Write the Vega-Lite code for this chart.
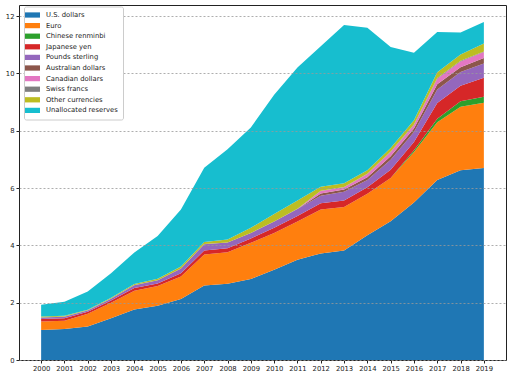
{
  "$schema": "https://vega.github.io/schema/vega-lite/v6.json",
  "width": 487,
  "height": 355,
  "padding": {"left": 19, "top": 5, "right": 6, "bottom": 18},
  "autosize": {"type": "none"},
  "background": "white",
  "config": {
    "view": {"stroke": "#222", "strokeWidth": 1},
    "font": "DejaVu Sans"
  },
  "datasets": {
    "currencies": [
      {"currency": "U.S. dollars", "rank": 1},
      {"currency": "Euro", "rank": 2},
      {"currency": "Chinese renminbi", "rank": 3},
      {"currency": "Japanese yen", "rank": 4},
      {"currency": "Pounds sterling", "rank": 5},
      {"currency": "Australian dollars", "rank": 6},
      {"currency": "Canadian dollars", "rank": 7},
      {"currency": "Swiss francs", "rank": 8},
      {"currency": "Other currencies", "rank": 9},
      {"currency": "Unallocated reserves", "rank": 10}
    ],
    "reserves": [
      {"year": 2000, "currency": "U.S. dollars", "value": 1.05},
      {"year": 2000, "currency": "Euro", "value": 0.29},
      {"year": 2000, "currency": "Chinese renminbi", "value": 0},
      {"year": 2000, "currency": "Japanese yen", "value": 0.09},
      {"year": 2000, "currency": "Pounds sterling", "value": 0.05},
      {"year": 2000, "currency": "Australian dollars", "value": 0},
      {"year": 2000, "currency": "Canadian dollars", "value": 0},
      {"year": 2000, "currency": "Swiss francs", "value": 0.004},
      {"year": 2000, "currency": "Other currencies", "value": 0.03},
      {"year": 2000, "currency": "Unallocated reserves", "value": 0.41},
      {"year": 2001, "currency": "U.S. dollars", "value": 1.08},
      {"year": 2001, "currency": "Euro", "value": 0.29},
      {"year": 2001, "currency": "Chinese renminbi", "value": 0},
      {"year": 2001, "currency": "Japanese yen", "value": 0.09},
      {"year": 2001, "currency": "Pounds sterling", "value": 0.05},
      {"year": 2001, "currency": "Australian dollars", "value": 0},
      {"year": 2001, "currency": "Canadian dollars", "value": 0},
      {"year": 2001, "currency": "Swiss francs", "value": 0.004},
      {"year": 2001, "currency": "Other currencies", "value": 0.03},
      {"year": 2001, "currency": "Unallocated reserves", "value": 0.49},
      {"year": 2002, "currency": "U.S. dollars", "value": 1.17},
      {"year": 2002, "currency": "Euro", "value": 0.44},
      {"year": 2002, "currency": "Chinese renminbi", "value": 0},
      {"year": 2002, "currency": "Japanese yen", "value": 0.07},
      {"year": 2002, "currency": "Pounds sterling", "value": 0.05},
      {"year": 2002, "currency": "Australian dollars", "value": 0},
      {"year": 2002, "currency": "Canadian dollars", "value": 0},
      {"year": 2002, "currency": "Swiss francs", "value": 0.004},
      {"year": 2002, "currency": "Other currencies", "value": 0.02},
      {"year": 2002, "currency": "Unallocated reserves", "value": 0.64},
      {"year": 2003, "currency": "U.S. dollars", "value": 1.46},
      {"year": 2003, "currency": "Euro", "value": 0.54},
      {"year": 2003, "currency": "Chinese renminbi", "value": 0},
      {"year": 2003, "currency": "Japanese yen", "value": 0.08},
      {"year": 2003, "currency": "Pounds sterling", "value": 0.06},
      {"year": 2003, "currency": "Australian dollars", "value": 0},
      {"year": 2003, "currency": "Canadian dollars", "value": 0},
      {"year": 2003, "currency": "Swiss francs", "value": 0.004},
      {"year": 2003, "currency": "Other currencies", "value": 0.03},
      {"year": 2003, "currency": "Unallocated reserves", "value": 0.85},
      {"year": 2004, "currency": "U.S. dollars", "value": 1.76},
      {"year": 2004, "currency": "Euro", "value": 0.66},
      {"year": 2004, "currency": "Chinese renminbi", "value": 0},
      {"year": 2004, "currency": "Japanese yen", "value": 0.09},
      {"year": 2004, "currency": "Pounds sterling", "value": 0.10},
      {"year": 2004, "currency": "Australian dollars", "value": 0},
      {"year": 2004, "currency": "Canadian dollars", "value": 0},
      {"year": 2004, "currency": "Swiss francs", "value": 0.004},
      {"year": 2004, "currency": "Other currencies", "value": 0.04},
      {"year": 2004, "currency": "Unallocated reserves", "value": 1.10},
      {"year": 2005, "currency": "U.S. dollars", "value": 1.89},
      {"year": 2005, "currency": "Euro", "value": 0.69},
      {"year": 2005, "currency": "Chinese renminbi", "value": 0},
      {"year": 2005, "currency": "Japanese yen", "value": 0.09},
      {"year": 2005, "currency": "Pounds sterling", "value": 0.11},
      {"year": 2005, "currency": "Australian dollars", "value": 0},
      {"year": 2005, "currency": "Canadian dollars", "value": 0},
      {"year": 2005, "currency": "Swiss francs", "value": 0.004},
      {"year": 2005, "currency": "Other currencies", "value": 0.05},
      {"year": 2005, "currency": "Unallocated reserves", "value": 1.49},
      {"year": 2006, "currency": "U.S. dollars", "value": 2.13},
      {"year": 2006, "currency": "Euro", "value": 0.78},
      {"year": 2006, "currency": "Chinese renminbi", "value": 0},
      {"year": 2006, "currency": "Japanese yen", "value": 0.12},
      {"year": 2006, "currency": "Pounds sterling", "value": 0.16},
      {"year": 2006, "currency": "Australian dollars", "value": 0},
      {"year": 2006, "currency": "Canadian dollars", "value": 0},
      {"year": 2006, "currency": "Swiss francs", "value": 0.005},
      {"year": 2006, "currency": "Other currencies", "value": 0.07},
      {"year": 2006, "currency": "Unallocated reserves", "value": 1.99},
      {"year": 2007, "currency": "U.S. dollars", "value": 2.60},
      {"year": 2007, "currency": "Euro", "value": 1.08},
      {"year": 2007, "currency": "Chinese renminbi", "value": 0},
      {"year": 2007, "currency": "Japanese yen", "value": 0.14},
      {"year": 2007, "currency": "Pounds sterling", "value": 0.22},
      {"year": 2007, "currency": "Australian dollars", "value": 0},
      {"year": 2007, "currency": "Canadian dollars", "value": 0},
      {"year": 2007, "currency": "Swiss francs", "value": 0.006},
      {"year": 2007, "currency": "Other currencies", "value": 0.07},
      {"year": 2007, "currency": "Unallocated reserves", "value": 2.59},
      {"year": 2008, "currency": "U.S. dollars", "value": 2.66},
      {"year": 2008, "currency": "Euro", "value": 1.10},
      {"year": 2008, "currency": "Chinese renminbi", "value": 0},
      {"year": 2008, "currency": "Japanese yen", "value": 0.14},
      {"year": 2008, "currency": "Pounds sterling", "value": 0.20},
      {"year": 2008, "currency": "Australian dollars", "value": 0},
      {"year": 2008, "currency": "Canadian dollars", "value": 0},
      {"year": 2008, "currency": "Swiss francs", "value": 0.005},
      {"year": 2008, "currency": "Other currencies", "value": 0.10},
      {"year": 2008, "currency": "Unallocated reserves", "value": 3.15},
      {"year": 2009, "currency": "U.S. dollars", "value": 2.83},
      {"year": 2009, "currency": "Euro", "value": 1.26},
      {"year": 2009, "currency": "Chinese renminbi", "value": 0},
      {"year": 2009, "currency": "Japanese yen", "value": 0.15},
      {"year": 2009, "currency": "Pounds sterling", "value": 0.19},
      {"year": 2009, "currency": "Australian dollars", "value": 0},
      {"year": 2009, "currency": "Canadian dollars", "value": 0},
      {"year": 2009, "currency": "Swiss francs", "value": 0.005},
      {"year": 2009, "currency": "Other currencies", "value": 0.18},
      {"year": 2009, "currency": "Unallocated reserves", "value": 3.50},
      {"year": 2010, "currency": "U.S. dollars", "value": 3.15},
      {"year": 2010, "currency": "Euro", "value": 1.28},
      {"year": 2010, "currency": "Chinese renminbi", "value": 0},
      {"year": 2010, "currency": "Japanese yen", "value": 0.19},
      {"year": 2010, "currency": "Pounds sterling", "value": 0.21},
      {"year": 2010, "currency": "Australian dollars", "value": 0},
      {"year": 2010, "currency": "Canadian dollars", "value": 0},
      {"year": 2010, "currency": "Swiss francs", "value": 0.006},
      {"year": 2010, "currency": "Other currencies", "value": 0.26},
      {"year": 2010, "currency": "Unallocated reserves", "value": 4.16},
      {"year": 2011, "currency": "U.S. dollars", "value": 3.50},
      {"year": 2011, "currency": "Euro", "value": 1.33},
      {"year": 2011, "currency": "Chinese renminbi", "value": 0},
      {"year": 2011, "currency": "Japanese yen", "value": 0.20},
      {"year": 2011, "currency": "Pounds sterling", "value": 0.24},
      {"year": 2011, "currency": "Australian dollars", "value": 0},
      {"year": 2011, "currency": "Canadian dollars", "value": 0},
      {"year": 2011, "currency": "Swiss francs", "value": 0.005},
      {"year": 2011, "currency": "Other currencies", "value": 0.29},
      {"year": 2011, "currency": "Unallocated reserves", "value": 4.64},
      {"year": 2012, "currency": "U.S. dollars", "value": 3.72},
      {"year": 2012, "currency": "Euro", "value": 1.53},
      {"year": 2012, "currency": "Chinese renminbi", "value": 0},
      {"year": 2012, "currency": "Japanese yen", "value": 0.22},
      {"year": 2012, "currency": "Pounds sterling", "value": 0.26},
      {"year": 2012, "currency": "Australian dollars", "value": 0.08},
      {"year": 2012, "currency": "Canadian dollars", "value": 0.09},
      {"year": 2012, "currency": "Swiss francs", "value": 0.01},
      {"year": 2012, "currency": "Other currencies", "value": 0.14},
      {"year": 2012, "currency": "Unallocated reserves", "value": 4.90},
      {"year": 2013, "currency": "U.S. dollars", "value": 3.82},
      {"year": 2013, "currency": "Euro", "value": 1.52},
      {"year": 2013, "currency": "Chinese renminbi", "value": 0},
      {"year": 2013, "currency": "Japanese yen", "value": 0.23},
      {"year": 2013, "currency": "Pounds sterling", "value": 0.30},
      {"year": 2013, "currency": "Australian dollars", "value": 0.08},
      {"year": 2013, "currency": "Canadian dollars", "value": 0.08},
      {"year": 2013, "currency": "Swiss francs", "value": 0.01},
      {"year": 2013, "currency": "Other currencies", "value": 0.13},
      {"year": 2013, "currency": "Unallocated reserves", "value": 5.52},
      {"year": 2014, "currency": "U.S. dollars", "value": 4.35},
      {"year": 2014, "currency": "Euro", "value": 1.45},
      {"year": 2014, "currency": "Chinese renminbi", "value": 0},
      {"year": 2014, "currency": "Japanese yen", "value": 0.23},
      {"year": 2014, "currency": "Pounds sterling", "value": 0.25},
      {"year": 2014, "currency": "Australian dollars", "value": 0.10},
      {"year": 2014, "currency": "Canadian dollars", "value": 0.11},
      {"year": 2014, "currency": "Swiss francs", "value": 0.01},
      {"year": 2014, "currency": "Other currencies", "value": 0.12},
      {"year": 2014, "currency": "Unallocated reserves", "value": 4.98},
      {"year": 2015, "currency": "U.S. dollars", "value": 4.84},
      {"year": 2015, "currency": "Euro", "value": 1.51},
      {"year": 2015, "currency": "Chinese renminbi", "value": 0},
      {"year": 2015, "currency": "Japanese yen", "value": 0.29},
      {"year": 2015, "currency": "Pounds sterling", "value": 0.35},
      {"year": 2015, "currency": "Australian dollars", "value": 0.12},
      {"year": 2015, "currency": "Canadian dollars", "value": 0.15},
      {"year": 2015, "currency": "Swiss francs", "value": 0.02},
      {"year": 2015, "currency": "Other currencies", "value": 0.12},
      {"year": 2015, "currency": "Unallocated reserves", "value": 3.52},
      {"year": 2016, "currency": "U.S. dollars", "value": 5.50},
      {"year": 2016, "currency": "Euro", "value": 1.76},
      {"year": 2016, "currency": "Chinese renminbi", "value": 0.06},
      {"year": 2016, "currency": "Japanese yen", "value": 0.29},
      {"year": 2016, "currency": "Pounds sterling", "value": 0.35},
      {"year": 2016, "currency": "Australian dollars", "value": 0.12},
      {"year": 2016, "currency": "Canadian dollars", "value": 0.12},
      {"year": 2016, "currency": "Swiss francs", "value": 0.02},
      {"year": 2016, "currency": "Other currencies", "value": 0.15},
      {"year": 2016, "currency": "Unallocated reserves", "value": 2.35},
      {"year": 2017, "currency": "U.S. dollars", "value": 6.28},
      {"year": 2017, "currency": "Euro", "value": 2.02},
      {"year": 2017, "currency": "Chinese renminbi", "value": 0.12},
      {"year": 2017, "currency": "Japanese yen", "value": 0.55},
      {"year": 2017, "currency": "Pounds sterling", "value": 0.47},
      {"year": 2017, "currency": "Australian dollars", "value": 0.18},
      {"year": 2017, "currency": "Canadian dollars", "value": 0.20},
      {"year": 2017, "currency": "Swiss francs", "value": 0.02},
      {"year": 2017, "currency": "Other currencies", "value": 0.20},
      {"year": 2017, "currency": "Unallocated reserves", "value": 1.41},
      {"year": 2018, "currency": "U.S. dollars", "value": 6.62},
      {"year": 2018, "currency": "Euro", "value": 2.22},
      {"year": 2018, "currency": "Chinese renminbi", "value": 0.19},
      {"year": 2018, "currency": "Japanese yen", "value": 0.54},
      {"year": 2018, "currency": "Pounds sterling", "value": 0.48},
      {"year": 2018, "currency": "Australian dollars", "value": 0.17},
      {"year": 2018, "currency": "Canadian dollars", "value": 0.20},
      {"year": 2018, "currency": "Swiss francs", "value": 0.02},
      {"year": 2018, "currency": "Other currencies", "value": 0.22},
      {"year": 2018, "currency": "Unallocated reserves", "value": 0.77},
      {"year": 2019, "currency": "U.S. dollars", "value": 6.70},
      {"year": 2019, "currency": "Euro", "value": 2.28},
      {"year": 2019, "currency": "Chinese renminbi", "value": 0.21},
      {"year": 2019, "currency": "Japanese yen", "value": 0.66},
      {"year": 2019, "currency": "Pounds sterling", "value": 0.50},
      {"year": 2019, "currency": "Australian dollars", "value": 0.19},
      {"year": 2019, "currency": "Canadian dollars", "value": 0.21},
      {"year": 2019, "currency": "Swiss francs", "value": 0.02},
      {"year": 2019, "currency": "Other currencies", "value": 0.28},
      {"year": 2019, "currency": "Unallocated reserves", "value": 0.75}
    ]
  },
  "data": {"name": "reserves"},
  "transform": [
    {"lookup": "currency", "from": {"data": {"name": "currencies"}, "key": "currency", "fields": ["rank"]}}
  ],
  "mark": {"type": "area", "interpolate": "linear"},
  "encoding": {
    "x": {
      "field": "year",
      "type": "quantitative",
      "scale": {"domain": [1999.05, 2019.95], "nice": false, "zero": false},
      "axis": {
        "values": [2000, 2001, 2002, 2003, 2004, 2005, 2006, 2007, 2008, 2009, 2010, 2011, 2012, 2013, 2014, 2015, 2016, 2017, 2018, 2019],
        "format": "d",
        "title": null,
        "grid": false,
        "domain": false,
        "tickSize": 3,
        "tickColor": "#222",
        "labelColor": "#222",
        "labelFontSize": 6.8,
        "labelPadding": 2,
        "labelFlush": false,
        "labelOverlap": false
      }
    },
    "y": {
      "field": "value",
      "type": "quantitative",
      "stack": "zero",
      "scale": {"domain": [0, 12.39], "nice": false},
      "axis": {
        "values": [0, 2, 4, 6, 8, 10, 12],
        "title": null,
        "grid": true,
        "gridDash": [2, 2],
        "gridColor": "#999",
        "gridWidth": 0.8,
        "domain": false,
        "tickSize": 3,
        "tickColor": "#222",
        "labelColor": "#222",
        "labelFontSize": 6.8,
        "labelPadding": 2,
        "zindex": 1
      }
    },
    "color": {
      "field": "currency",
      "type": "nominal",
      "scale": {
        "domain": ["U.S. dollars", "Euro", "Chinese renminbi", "Japanese yen", "Pounds sterling", "Australian dollars", "Canadian dollars", "Swiss francs", "Other currencies", "Unallocated reserves"],
        "range": ["#1f77b4", "#ff7f0e", "#2ca02c", "#d62728", "#9467bd", "#8c564b", "#e377c2", "#7f7f7f", "#bcbd22", "#17becf"]
      },
      "legend": {
        "orient": "none",
        "legendX": 5,
        "legendY": 1.5,
        "title": null,
        "fillColor": "white",
        "strokeColor": "#ccc",
        "cornerRadius": 2,
        "padding": 5,
        "symbolType": "M-2.14,-0.75H2.14V0.75H-2.14Z",
        "symbolSize": 49,
        "symbolStrokeWidth": 0,
        "symbolOpacity": 1,
        "labelFontSize": 6.8,
        "labelColor": "#222",
        "labelOffset": 10,
        "rowPadding": 2.6,
        "zindex": 2
      }
    },
    "order": {"field": "rank", "type": "quantitative", "sort": "ascending"}
  }
}
